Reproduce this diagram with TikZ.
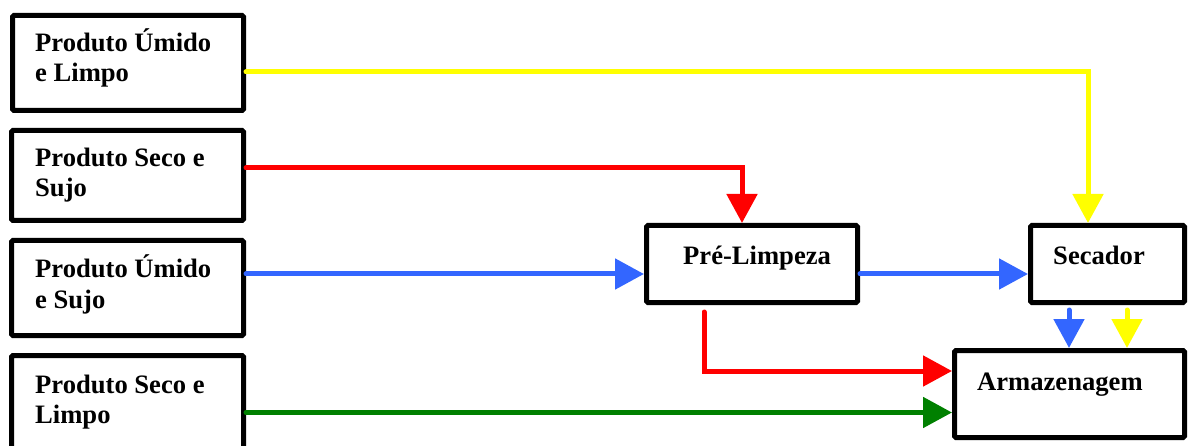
\documentclass[tikz,border=0pt]{standalone}
\usepackage{fontspec}
\setmainfont{Liberation Serif}
\usetikzlibrary{arrows.meta}
\definecolor{cyel}{HTML}{FFFF00}
\definecolor{cred}{HTML}{FF0000}
\definecolor{cblue}{HTML}{3366FF}
\definecolor{cgreen}{HTML}{008000}
\begin{document}
\begin{tikzpicture}[x=1pt,y=-1pt,
  box/.style={draw=black,line width=5pt,rounded corners=1.5pt,fill=white,inner sep=0pt,outer sep=2.5pt},
  lbl/.style={anchor=base west,inner sep=0pt,align=left,font=\fontsize{26.6}{30}\selectfont\bfseries},
  conn/.style={line width=5pt,line cap=round,-{Triangle[length=29pt,width=30pt]}}]
\useasboundingbox (0,0) rectangle (1188,446);
\clip (0,0) rectangle (1188,446);
% boxes
\node[box,minimum width=231pt,minimum height=95pt] (b1) at (128,63) {};
\node[box,minimum width=232pt,minimum height=90pt] (b2) at (127.5,175.5) {};
\node[box,minimum width=232pt,minimum height=95pt] (b3) at (127.5,288) {};
\node[box,minimum width=232pt,minimum height=95pt] (b4) at (127.5,403) {};
\node[box,minimum width=211pt,minimum height=77pt] (pre) at (752,264) {};
\node[box,minimum width=154pt,minimum height=77pt] (sec) at (1107.5,264) {};
\node[box,minimum width=230pt,minimum height=87pt] (arm) at (1069.5,394) {};
% labels (anchored at the baseline of their last line)
\node[lbl] (t1) at (35,82) {Produto Úmido\\e Limpo};
\node[lbl] (t2) at (35,197) {Produto Seco e\\Sujo};
\node[lbl] (t3) at (35,308) {Produto Úmido\\e Sujo};
\node[lbl] (t4) at (35,423) {Produto Seco e\\Limpo};
\node[lbl] (t5) at (683,265) {Pré-Limpeza};
\node[lbl] (t6) at (1053,265) {Secador};
\node[lbl] (t7) at (977,390) {Armazenagem};
% connectors
\draw[conn,cyel] ([yshift=-9pt]b1.east) -| ([xshift=-19.5pt]sec.north);
\draw[conn,cred] ([yshift=7.5pt]b2.east) -| ([xshift=-10pt]pre.north);
\draw[conn,cblue] ([yshift=14pt]b3.east) -- ([yshift=14pt]b3.east -| pre.west);
\draw[conn,cblue] ([yshift=-10pt]pre.east) -- ([yshift=-10pt]pre.east -| sec.west);
\coordinate (r0) at ([xshift=-48pt,yshift=-7pt]pre.south);
\draw[conn,cred] (r0) |- ([yshift=23pt]arm.west);
\draw[conn,cgreen] ([yshift=-9.5pt]b4.east) -- ([yshift=-9.5pt]b4.east -| arm.west);
\coordinate (s1) at ([xshift=-38.5pt,yshift=-5pt]sec.south);
\coordinate (s2) at ([xshift=19.5pt,yshift=-5pt]sec.south);
\draw[conn,cblue] (s1) -- (s1 |- arm.north);
\draw[conn,cyel] (s2) -- (s2 |- arm.north);
\end{tikzpicture}
\end{document}
